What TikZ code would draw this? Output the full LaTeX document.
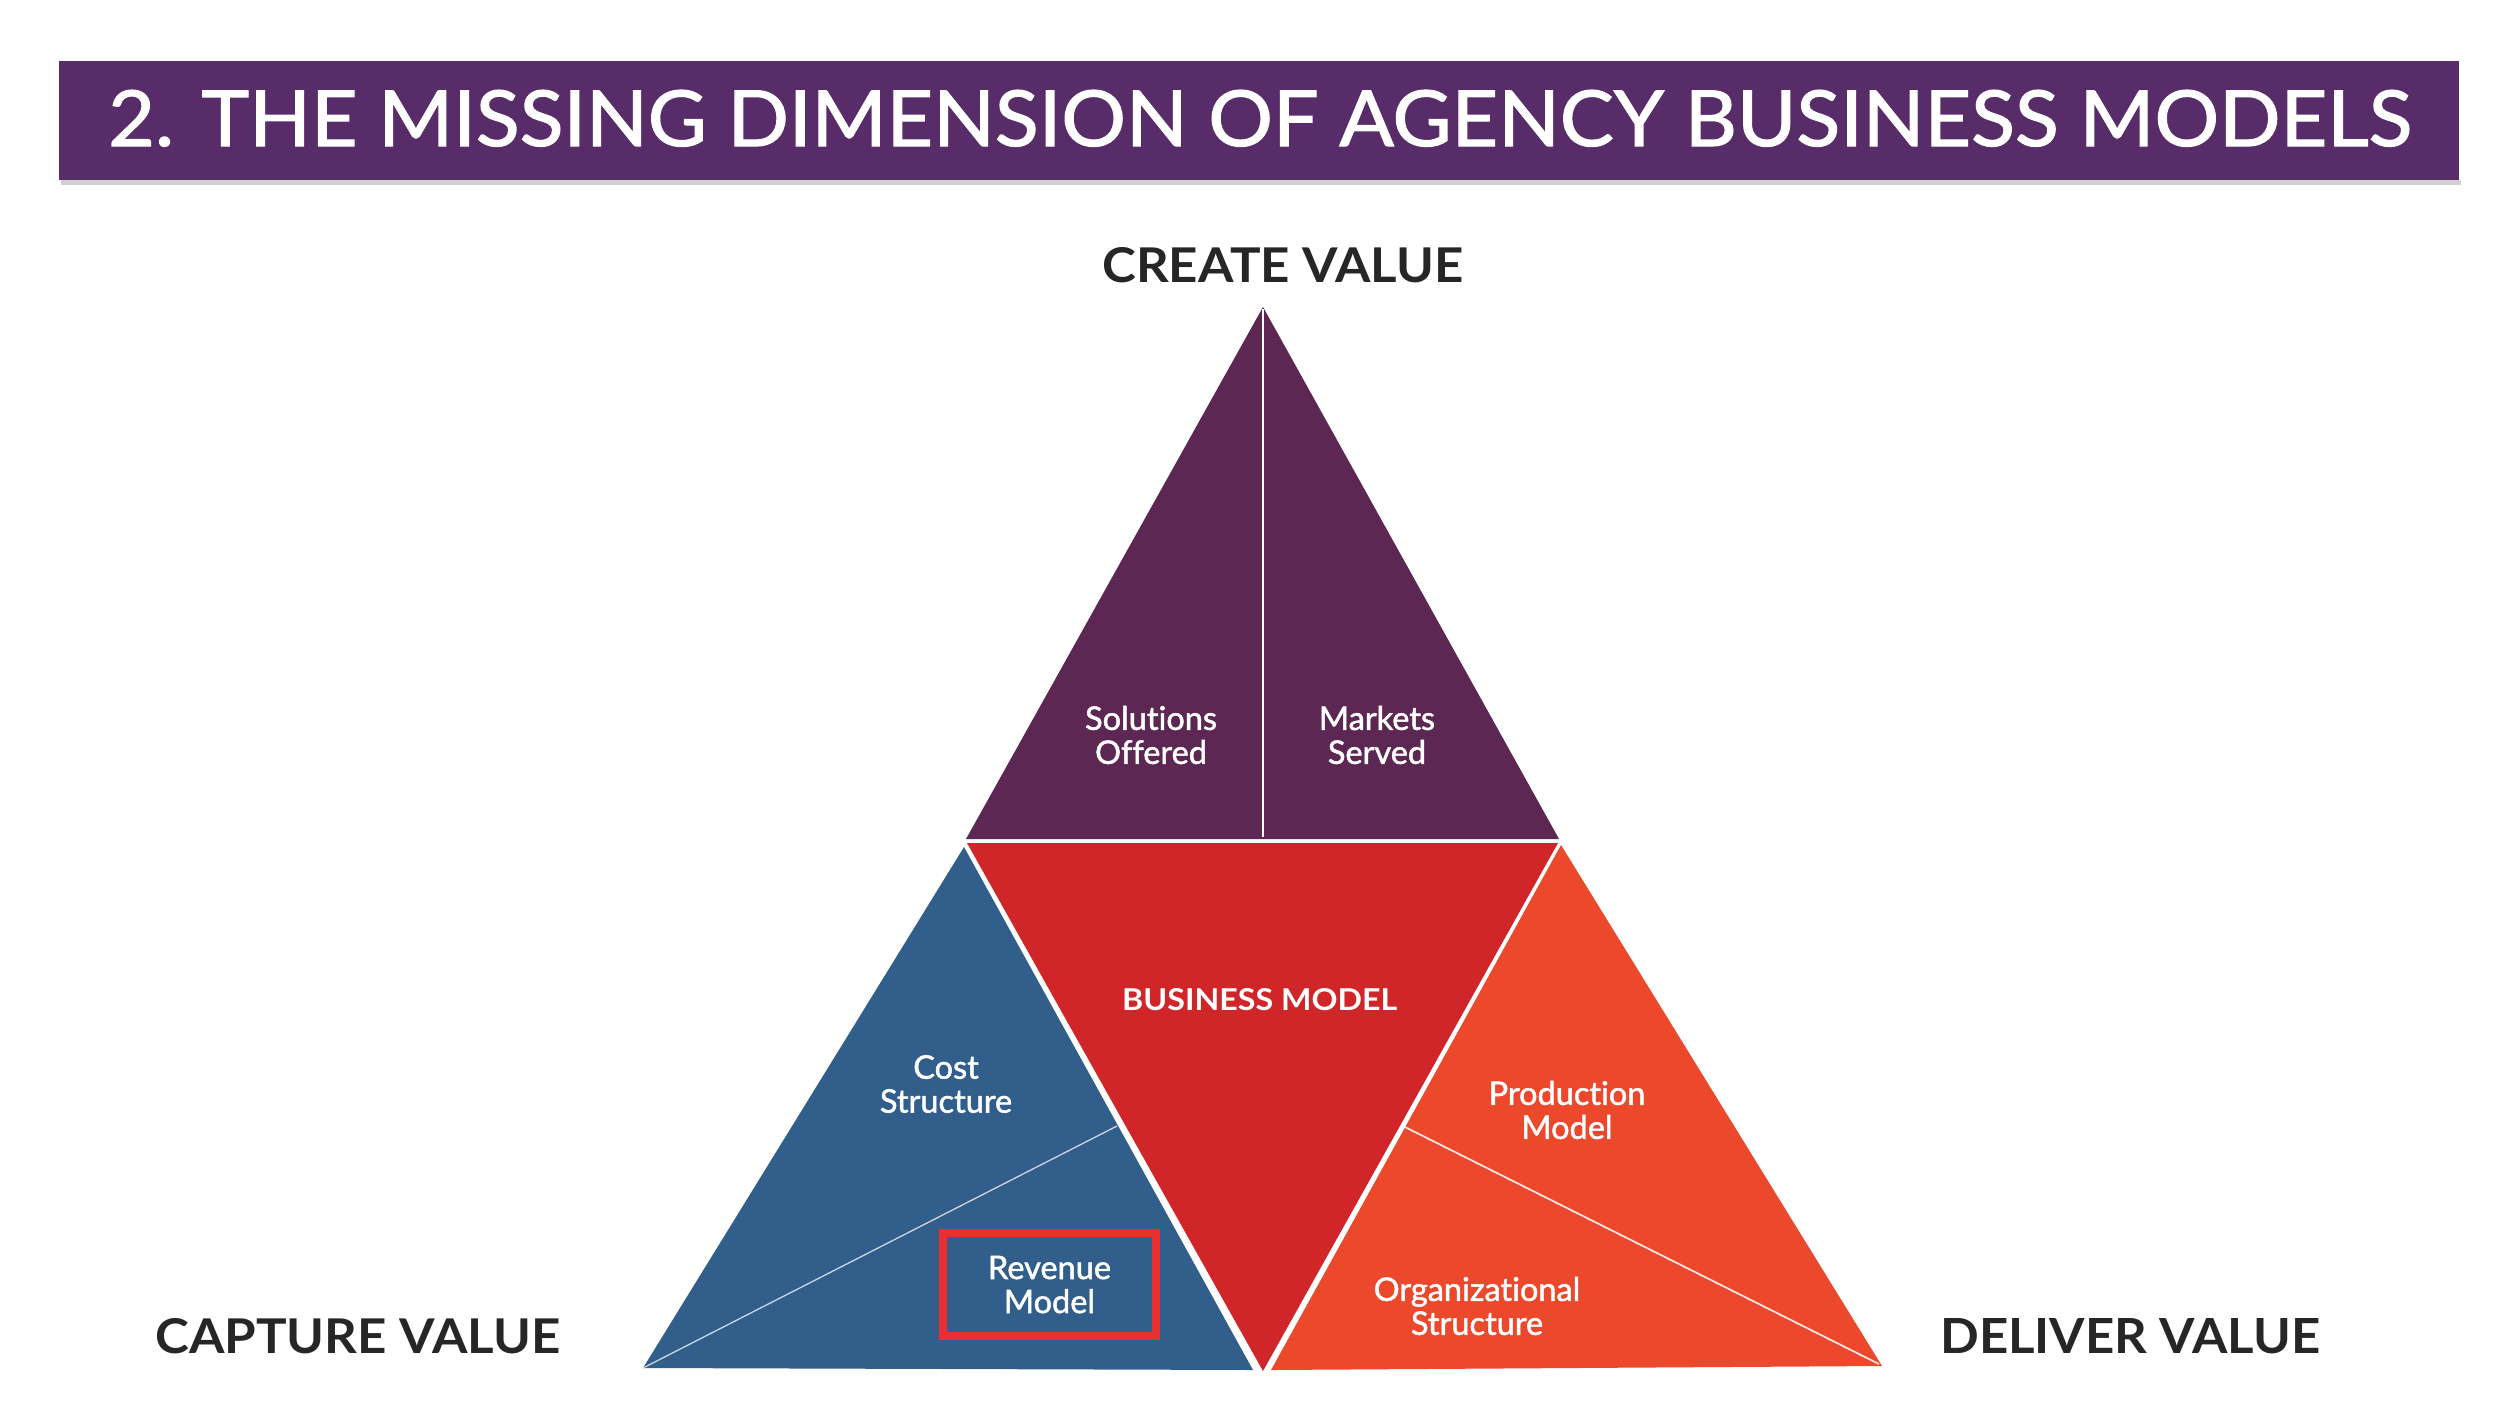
\documentclass[tikz,border=0pt]{standalone}
\usepackage{fontspec}
\setmainfont{Lato}
\newfontfamily\medfont{Lato}[FakeBold=1.5, Ligatures=NoCommon]
\definecolor{titlepurple}{HTML}{582C69}
\definecolor{tripurple}{HTML}{5C2752}
\definecolor{bmred}{HTML}{D02629}
\definecolor{capblue}{HTML}{325E8B}
\definecolor{delorange}{HTML}{EC482C}
\definecolor{boxred}{HTML}{E83030}
\definecolor{darktext}{HTML}{262626}
\tikzset{
  lbl/.style={text=white, align=center, inner sep=0pt, font=\medfont\fontsize{32.5}{34}\selectfont},
  corner/.style={text=darktext, inner sep=0pt, anchor=base west},
}
\begin{document}
\begin{tikzpicture}[x=1pt,y=-1pt]
\useasboundingbox (0,0) rectangle (2500,1406);
\fill[white] (0,0) rectangle (2500,1406);
% title bar
\fill[black!18] (61,180) rectangle (2461,185);
\fill[titlepurple] (59,61) rectangle (2459,180);
\node[anchor=base west, inner sep=0pt, text=white] (title) at (108,146)
  {\resizebox{2303pt}{56pt}{\medfont\fontsize{80}{80}\selectfont 2. THE MISSING DIMENSION OF AGENCY BUSINESS MODELS}};
% create value triangle
\fill[tripurple] (1263,307) -- (1559,839) -- (966,839) -- cycle;
\draw[white, line width=2pt] (1263,309) -- (1263,837);
% business model
\fill[bmred] (967,843) -- (1558,843) -- (1263,1371) -- cycle;
% capture value
\fill[capblue] (964,847) -- (1253,1370) -- (643,1368) -- cycle;
\draw[white!75!capblue, line width=1.3pt] (643,1368) -- (1117,1126);
% deliver value
\fill[delorange] (1561,845) -- (1882,1366) -- (1271,1370) -- cycle;
\draw[white!85!delorange, line width=1.8pt] (1405,1127) -- (1879,1364);
% corner headings
\node[corner] (create) at (1102,282) {\resizebox{361pt}{35pt}{\bfseries\fontsize{50}{50}\selectfont CREATE VALUE}};
\node[corner] (capture) at (155,1353) {\resizebox{405pt}{35pt}{\bfseries\fontsize{50}{50}\selectfont CAPTURE VALUE}};
\node[corner] (deliver) at (1940,1353) {\resizebox{380pt}{35pt}{\bfseries\fontsize{50}{50}\selectfont DELIVER VALUE}};
% labels
\node[lbl] (solutions) at (1151,735) {Solutions\\Offered};
\node[lbl] (markets) at (1377,735) {Markets\\Served};
\node[anchor=base west, inner sep=0pt, text=white] (bm) at (1122,1010)
  {\resizebox{275pt}{22pt}{\bfseries\fontsize{30}{30}\selectfont BUSINESS MODEL}};
\node[lbl] (cost) at (946,1084) {Cost\\Structure};
\node[lbl, draw=boxred, line width=8pt, minimum width=213pt, minimum height=103pt] (revenue) at (1049.5,1284.5) {Revenue\\Model};
\node[lbl] (production) at (1567,1110) {Production\\Model};
\node[lbl] (org) at (1477,1306) {Organizational\\Structure};
\end{tikzpicture}
\end{document}
